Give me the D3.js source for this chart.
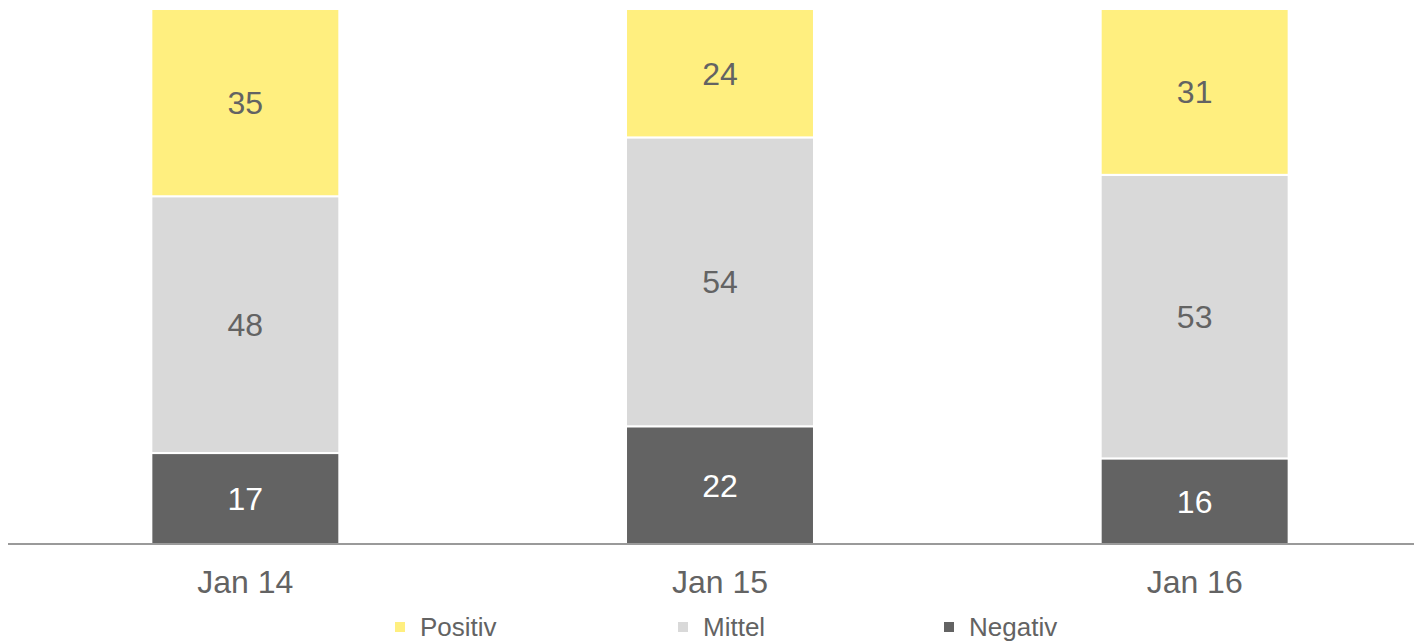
<!DOCTYPE html>
<html><head><meta charset="utf-8">
<script src="https://cdn.jsdelivr.net/npm/d3@7"></script>
<style>body{margin:0;background:#fff}svg{display:block;font-family:"Liberation Sans",Arial,sans-serif}</style>
</head><body><svg id="c" width="1414" height="641"></svg>
<script>
const categories = ["Jan 14", "Jan 15", "Jan 16"];
const seriesNames = ["Negativ", "Mittel", "Positiv"];
const negativ = [17, 22, 16];
const mittel = [48, 54, 53];
const positiv = [35, 24, 31];
const legendOrder = ["Positiv", "Mittel", "Negativ"];

const colors = {Positiv:"#FFEF7F", Mittel:"#D9D9D9", Negativ:"#636363"};
const labelColors = {Positiv:"#636363", Mittel:"#636363", Negativ:"#ffffff"};

const rows = categories.map((c,i)=>({cat:c, Negativ:negativ[i], Mittel:mittel[i], Positiv:positiv[i]}));
const stack = d3.stack().keys(seriesNames)(rows);

const svg = d3.select("#c");
const x = d3.scaleBand().domain(categories).range([8, 1432]).paddingInner(0.604).paddingOuter(0.302);
const y = d3.scaleLinear().domain([0,100]).range([544, 9]);

const g = svg.append("g");
stack.forEach(layer=>{
  const key = layer.key;
  const lg = g.append("g");
  lg.selectAll("rect").data(layer).join("rect")
    .attr("x", d=>x(d.data.cat))
    .attr("width", x.bandwidth())
    .attr("y", d=>y(d[1]))
    .attr("height", d=>y(d[0])-y(d[1]))
    .attr("fill", colors[key])
    .attr("stroke", "#fff").attr("stroke-width", 2);
  lg.selectAll("text").data(layer).join("text")
    .attr("x", d=>x(d.data.cat)+x.bandwidth()/2)
    .attr("y", d=>(y(d[0])+y(d[1]))/2)
    .attr("dy", "0.36em")
    .attr("text-anchor","middle")
    .attr("font-size", 32)
    .attr("fill", labelColors[key])
    .text(d=>d[1]-d[0]);
});

// axis
const axis = d3.axisBottom(x).tickSize(0).tickPadding(26);
const ag = svg.append("g").attr("transform","translate(0,544)").call(axis);
ag.select(".domain").remove();
ag.selectAll("text").attr("font-size",32).attr("fill","#636363").attr("font-family","Liberation Sans, Arial, sans-serif");
svg.append("line").attr("x1",8).attr("x2",1414).attr("y1",544).attr("y2",544)
  .attr("stroke","#9a9a9a").attr("stroke-width",2);

// legend
const legendX = [395, 678, 944];
const lgd = svg.append("g");
legendOrder.forEach((k,i)=>{
  lgd.append("rect").attr("x",legendX[i]).attr("y",622).attr("width",10).attr("height",10).attr("fill",colors[k]);
  lgd.append("text").attr("x",legendX[i]+25).attr("y",627).attr("dy","0.36em")
    .attr("font-size",26).attr("fill","#636363").text(k);
});
</script></body></html>
